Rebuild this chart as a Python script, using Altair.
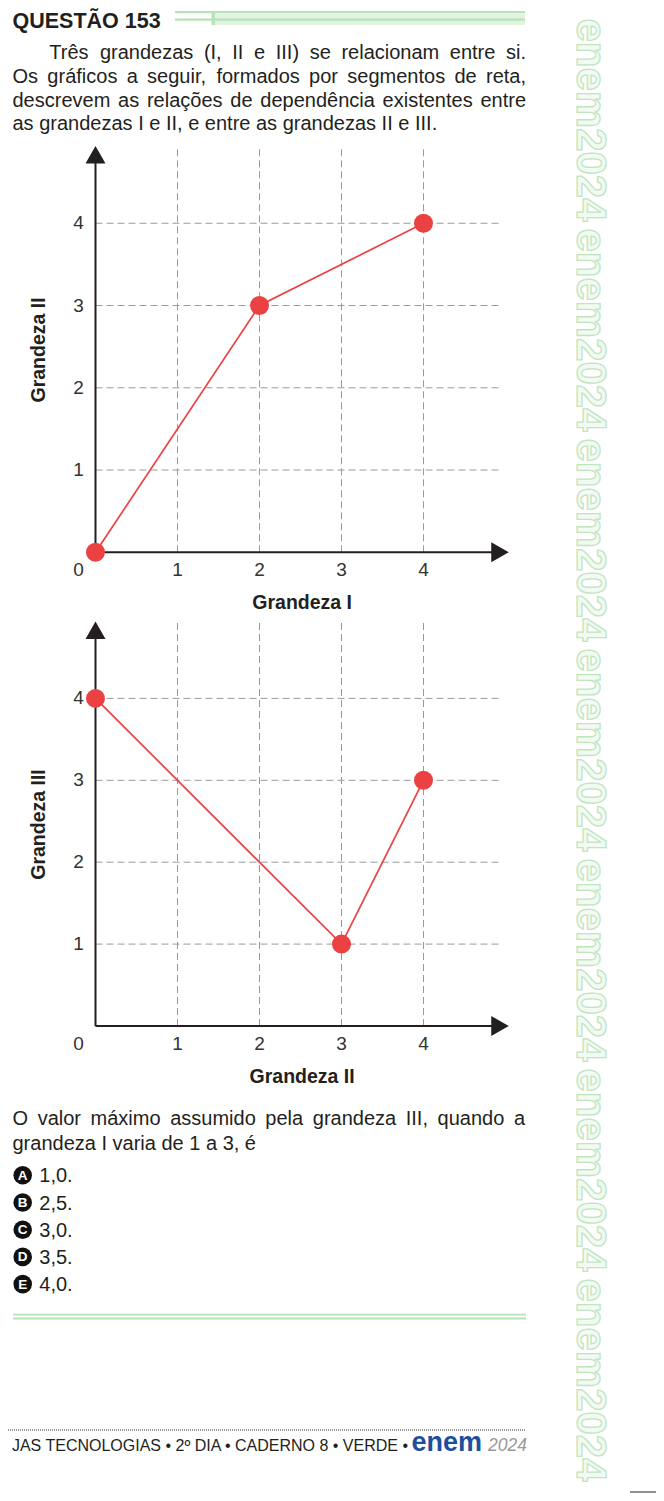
import altair as alt
import pandas as pd

FONT = "Liberation Sans"
INK = "#231f20"
RED = "#ec4142"
GRID = "#9a9a9a"
GREEN = "#b8e2b8"

# Grandeza I -> Grandeza II
g1_x = [0, 2, 4]
g1_y = [0, 3, 4]
# Grandeza II -> Grandeza III
g2_x = [0, 3, 4]
g2_y = [4, 1, 3]
tick_values = [1, 2, 3, 4]

title_text = "QUESTÃO 153"
intro_lines = [
    "Três grandezas (I, II e III) se relacionam entre si.",
    "Os gráficos a seguir, formados por segmentos de reta,",
    "descrevem as relações de dependência existentes entre",
    "as grandezas I e II, e entre as grandezas II e III.",
]
question_lines = [
    "O valor máximo assumido pela grandeza III, quando a",
    "grandeza I varia de 1 a 3, é",
]
option_letters = ["A", "B", "C", "D", "E"]
option_values = ["1,0.", "2,5.", "3,0.", "3,5.", "4,0."]
footer_text = "JAS TECNOLOGIAS • 2º DIA • CADERNO 8 • VERDE •"

# Liberation Sans (Arial metrics) widths, used to justify the paragraph lines
CHAR_W = dict.fromkeys("abdeghnopqu0123456789áãâéêóõôú", 556)
CHAR_W.update(dict.fromkeys("cksvxyzç", 500))
CHAR_W.update({"f": 278, "t": 278, "i": 222, "j": 222, "l": 222, "í": 278,
               "m": 833, "r": 333, "w": 722, " ": 278, ",": 278, ".": 278,
               "(": 333, ")": 333, "I": 278, "O": 778, "T": 611, "A": 667})


def text_width(s, size):
    return sum(CHAR_W.get(c, 556) for c in s) * size / 1000


def line_rows(line, x0, y, size, x1=None):
    words = line.split(" ")
    if x1 is None:
        return [{"text": line, "x": x0, "y": y}]
    widths = [text_width(w, size) for w in words]
    gap = (x1 - x0 - sum(widths)) / (len(words) - 1)
    rows, x = [], x0
    for w, wd in zip(words, widths):
        rows.append({"text": w, "x": x, "y": y})
        x += wd + gap
    return rows


def text_layer(rows, size, weight="normal", color=INK, align="left", style="normal"):
    return alt.Chart(pd.DataFrame(rows)).mark_text(
        align=align, baseline="alphabetic", font=FONT, fontSize=size,
        fontWeight=weight, fontStyle=style, color=color
    ).encode(
        x=alt.X("x:Q", scale=None, axis=None),
        y=alt.Y("y:Q", scale=None, axis=None),
        text="text:N",
    )


one = pd.DataFrame({"k": [0]})


def rect(x, x2, y, y2, color):
    return alt.Chart(one).mark_rect(color=color).encode(
        x=alt.value(x), x2=alt.value(x2), y=alt.value(y), y2=alt.value(y2)
    )


def panel(px, py, y_range, x_title, y_title):
    xs = alt.Scale(domain=[0, 5], range=[87.5, 497.5])
    ys = alt.Scale(domain=[0, 5], range=y_range)
    pts = pd.DataFrame({"a": px, "b": py})
    ticks = pd.DataFrame({"v": tick_values})

    def X(d):
        return alt.X(datum=d, scale=xs, axis=None)

    def Y(d):
        return alt.Y(datum=d, scale=ys, axis=None)

    grid_v = alt.Chart(ticks).mark_rule(color=GRID, strokeDash=[7, 4], strokeWidth=1).encode(
        x=alt.X("v:Q", scale=xs, axis=None), y=Y(0), y2=alt.Y2(datum=4.94))
    grid_h = alt.Chart(ticks).mark_rule(color=GRID, strokeDash=[7, 4], strokeWidth=1).encode(
        y=alt.Y("v:Q", scale=ys, axis=None), x=X(0), x2=alt.X2(datum=4.95))
    x_axis = alt.Chart(one).mark_rule(color=INK, strokeWidth=2).encode(
        x=X(0), x2=alt.X2(datum=4.86), y=Y(0))
    y_axis = alt.Chart(one).mark_rule(color=INK, strokeWidth=2).encode(
        x=X(0), y=Y(0), y2=alt.Y2(datum=4.8))
    arrow_r = alt.Chart(one).mark_point(
        shape="M-0.85,-1L0.9,0L-0.85,1Z", size=400, filled=True, color=INK, opacity=1
    ).encode(x=X(4.93), y=Y(0))
    arrow_u = alt.Chart(one).mark_point(
        shape="M-1,0.85L0,-0.9L1,0.85Z", size=400, filled=True, color=INK, opacity=1
    ).encode(x=X(0), y=Y(4.83))
    line = alt.Chart(pts).mark_line(color=RED, strokeWidth=1.7).encode(
        x=alt.X("a:Q", scale=xs, axis=None), y=alt.Y("b:Q", scale=ys, axis=None))
    dots = alt.Chart(pts).mark_circle(color=RED, size=360, opacity=1).encode(
        x=alt.X("a:Q", scale=xs, axis=None), y=alt.Y("b:Q", scale=ys, axis=None))
    tick_style = dict(font=FONT, fontSize=19, color="#333333", align="center", baseline="middle")
    x_labels = alt.Chart(ticks).mark_text(dy=18, **tick_style).encode(
        x=alt.X("v:Q", scale=xs, axis=None), y=Y(0), text="v:Q")
    y_labels = alt.Chart(ticks).mark_text(dx=-17, **tick_style).encode(
        y=alt.Y("v:Q", scale=ys, axis=None), x=X(0), text="v:Q")
    zero = alt.Chart(one).mark_text(dx=-17, dy=18, text="0", **tick_style).encode(x=X(0), y=Y(0))
    title_style = dict(font=FONT, fontSize=19.5, fontWeight="bold", color=INK,
                       align="center", baseline="middle")
    xt = alt.Chart(one).mark_text(text=x_title, dy=51, **title_style).encode(x=X(2.52), y=Y(0))
    yt = alt.Chart(one).mark_text(text=y_title, angle=270, **title_style).encode(
        x=X(-0.69), y=Y(2.46))
    return alt.layer(grid_v, grid_h, x_axis, y_axis, arrow_r, arrow_u, line, dots,
                     x_labels, y_labels, zero, xt, yt)


chart1 = panel(g1_x, g1_y, [544.3, 133.0], "Grandeza I", "Grandeza II")
chart2 = panel(g2_x, g2_y, [1018.0, 608.5], "Grandeza II", "Grandeza III")

# paragraph text
intro_rows = (line_rows(intro_lines[0], 41.3, 51.3, 20, 518)
              + line_rows(intro_lines[1], 4.5, 75.0, 20, 518)
              + line_rows(intro_lines[2], 4.5, 98.6, 20, 518)
              + line_rows(intro_lines[3], 4.5, 122.2, 20))
question_rows = (line_rows(question_lines[0], 4.5, 1117, 20, 517)
                 + line_rows(question_lines[1], 4.5, 1142, 20))

header = text_layer([{"text": title_text, "x": 4.5, "y": 19.5}], 21.5, weight="bold")
intro = text_layer(intro_rows, 20)
question = text_layer(question_rows, 20)

# answer options
opts = pd.DataFrame({"letter": option_letters, "value": option_values,
                     "row": range(len(option_letters))})
oy = alt.Scale(domain=[0, 4], range=[1167.3, 1276.1])
opt_dot = alt.Chart(opts).mark_circle(color="#111111", size=345, opacity=1).encode(
    x=alt.value(14.7), y=alt.Y("row:Q", scale=oy, axis=None))
opt_letter = alt.Chart(opts).mark_text(
    font=FONT, fontSize=13.5, fontWeight="bold", color="white", align="center", baseline="middle", dy=0.5
).encode(x=alt.value(14.7), y=alt.Y("row:Q", scale=oy, axis=None), text="letter:N")
opt_value = alt.Chart(opts).mark_text(
    font=FONT, fontSize=20, color=INK, align="left", baseline="alphabetic", dy=7
).encode(x=alt.value(31.3), y=alt.Y("row:Q", scale=oy, axis=None), text="value:N")
options = alt.layer(opt_dot, opt_letter, opt_value)

# green bars
bars = [
    rect(167, 517, 3, 5.3, GREEN),
    rect(207, 517, 5.3, 17, "#e2f3e2"),
    rect(167, 517, 10.6, 12.7, GREEN),
    rect(203.5, 207, 3, 17, GREEN),
    rect(5, 518, 1305.8, 1307.6, GREEN),
    rect(5, 518, 1309.6, 1311.5, GREEN),
]

# footer
dotted = alt.Chart(one).mark_rule(color="#777777", strokeWidth=1.5, strokeDash=[1, 1]).encode(
    x=alt.value(0), x2=alt.value(518), y=alt.value(1422))
foot = text_layer([{"text": footer_text, "x": 400, "y": 1443}], 16, color=INK, align="right")
enem = text_layer([{"text": "enem", "x": 403.5, "y": 1443}], 27, weight="bold", color="#1d4f9c")
year = text_layer([{"text": "2024", "x": 480, "y": 1443}], 17.5, color="#9a9a9a", style="italic")
corner = alt.Chart(one).mark_rule(color=INK, strokeWidth=1).encode(
    x=alt.value(622), x2=alt.value(648), y=alt.value(1484))

# decorative strip on the right
deco = pd.DataFrame({"k": range(7)})
deco_y = alt.Scale(domain=[0, 6], range=[112, 1372])
strip = alt.Chart(deco).mark_text(
    text="enem2024", angle=90, font=FONT, fontSize=42, fontWeight="bold",
    fill="#f3faf3", stroke="#bfe6bf", strokeWidth=1.3, align="center", baseline="middle"
).encode(x=alt.value(582), y=alt.Y("k:Q", scale=deco_y, axis=None))

chart = alt.layer(
    strip, *bars, chart1, chart2, header, intro, question, options,
    dotted, foot, enem, year, corner
).resolve_scale(
    x="independent", y="independent"
).properties(
    width=648, height=1485, padding=0,
    autosize=alt.AutoSizeParams(type="none"),
    background="white",
).configure(font=FONT).configure_view(stroke=None)

chart.save("out.html", embed_options={"renderer": "svg", "actions": False})
